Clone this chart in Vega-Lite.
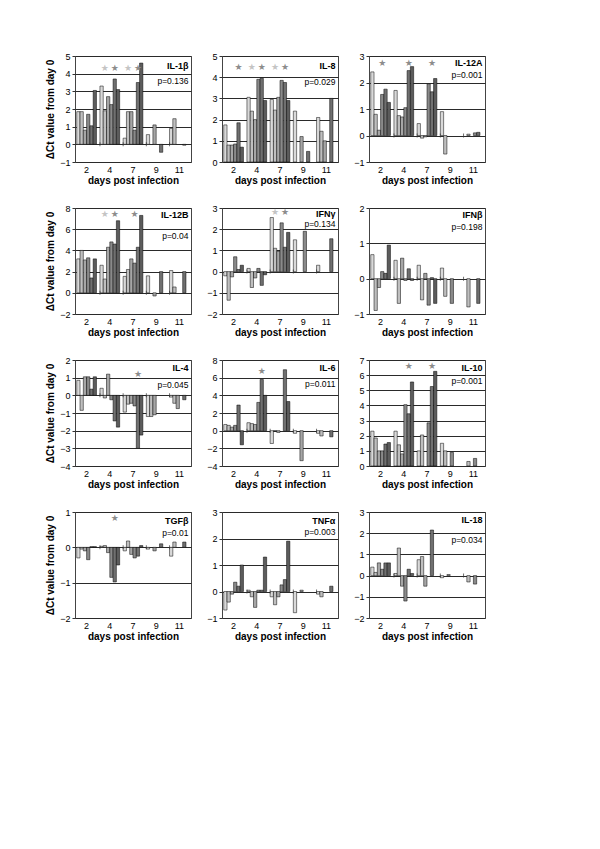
{
"$schema":"https://vega.github.io/schema/vega-lite/v6.json",
"background":"white",
"padding":{"left":45,"top":51,"right":5,"bottom":5},
"config":{
 "font":"Liberation Sans",
 "view":{"stroke":"#444","strokeWidth":1},
 "bar":{"stroke":"#000","strokeWidth":0.5},
 "text":{"font":"Liberation Sans","fill":"#000"},
 "axis":{"labelFont":"Liberation Sans","labelFontSize":9,"labelColor":"#000","titleFont":"Liberation Sans","titleFontSize":10,"titleFontWeight":"bold","titleColor":"#000","domain":false},
 "axisX":{"ticks":false,"grid":false,"labelAngle":0,"labelPadding":3,"titlePadding":1},
 "axisY":{"tickCount":20,"format":"d","labelOverlap":false,"tickSize":3,"tickColor":"#333","grid":true,"gridColor":"#2a2a2a","gridOpacity":1,"labelPadding":2,"titlePadding":4}
},
"datasets":{
 "one":[{}],
 "days":[{"d":4},{"d":7},{"d":9},{"d":11}],
 "bars":[
  {"p":"IL-1β","d":2,"i":1,"v":1.85},{"p":"IL-1β","d":2,"i":2,"v":1.85},{"p":"IL-1β","d":2,"i":3,"v":0.8},{"p":"IL-1β","d":2,"i":4,"v":1.7},{"p":"IL-1β","d":2,"i":5,"v":1.05},{"p":"IL-1β","d":2,"i":6,"v":3.05},
  {"p":"IL-1β","d":4,"i":1,"v":3.3},{"p":"IL-1β","d":4,"i":2,"v":1.9},{"p":"IL-1β","d":4,"i":3,"v":2.7},{"p":"IL-1β","d":4,"i":4,"v":2.25},{"p":"IL-1β","d":4,"i":5,"v":3.7},{"p":"IL-1β","d":4,"i":6,"v":3.1},
  {"p":"IL-1β","d":7,"i":1,"v":0.35},{"p":"IL-1β","d":7,"i":2,"v":1.85},{"p":"IL-1β","d":7,"i":3,"v":1.85},{"p":"IL-1β","d":7,"i":4,"v":0.8},{"p":"IL-1β","d":7,"i":5,"v":3.5},{"p":"IL-1β","d":7,"i":6,"v":4.6},
  {"p":"IL-1β","d":9,"i":1,"v":0.55},{"p":"IL-1β","d":9,"i":3,"v":1.1},{"p":"IL-1β","d":9,"i":5,"v":-0.45},
  {"p":"IL-1β","d":11,"i":1,"v":0.9},{"p":"IL-1β","d":11,"i":2,"v":1.45},{"p":"IL-1β","d":11,"i":5,"v":-0.05},

  {"p":"IL-8","d":2,"i":1,"v":1.75},{"p":"IL-8","d":2,"i":2,"v":0.8},{"p":"IL-8","d":2,"i":3,"v":0.8},{"p":"IL-8","d":2,"i":4,"v":0.85},{"p":"IL-8","d":2,"i":5,"v":1.85},{"p":"IL-8","d":2,"i":6,"v":0.7},
  {"p":"IL-8","d":4,"i":1,"v":3.05},{"p":"IL-8","d":4,"i":2,"v":2.4},{"p":"IL-8","d":4,"i":3,"v":2.0},{"p":"IL-8","d":4,"i":4,"v":3.9},{"p":"IL-8","d":4,"i":5,"v":3.95},{"p":"IL-8","d":4,"i":6,"v":2.9},
  {"p":"IL-8","d":7,"i":1,"v":2.95},{"p":"IL-8","d":7,"i":2,"v":2.45},{"p":"IL-8","d":7,"i":3,"v":3.05},{"p":"IL-8","d":7,"i":4,"v":3.85},{"p":"IL-8","d":7,"i":5,"v":3.75},{"p":"IL-8","d":7,"i":6,"v":2.9},
  {"p":"IL-8","d":9,"i":1,"v":2.4},{"p":"IL-8","d":9,"i":3,"v":1.2},{"p":"IL-8","d":9,"i":5,"v":0.5},
  {"p":"IL-8","d":11,"i":1,"v":2.1},{"p":"IL-8","d":11,"i":2,"v":1.45},{"p":"IL-8","d":11,"i":3,"v":1.0},{"p":"IL-8","d":11,"i":5,"v":3.0},

  {"p":"IL-12A","d":2,"i":1,"v":2.4},{"p":"IL-12A","d":2,"i":2,"v":0.8},{"p":"IL-12A","d":2,"i":3,"v":0.2},{"p":"IL-12A","d":2,"i":4,"v":1.55},{"p":"IL-12A","d":2,"i":5,"v":1.75},{"p":"IL-12A","d":2,"i":6,"v":1.25},
  {"p":"IL-12A","d":4,"i":1,"v":1.7},{"p":"IL-12A","d":4,"i":2,"v":0.75},{"p":"IL-12A","d":4,"i":3,"v":0.7},{"p":"IL-12A","d":4,"i":4,"v":1.05},{"p":"IL-12A","d":4,"i":5,"v":2.45},{"p":"IL-12A","d":4,"i":6,"v":2.6},
  {"p":"IL-12A","d":7,"i":1,"v":0.45},{"p":"IL-12A","d":7,"i":2,"v":-0.1},{"p":"IL-12A","d":7,"i":3,"v":-0.05},{"p":"IL-12A","d":7,"i":4,"v":1.95},{"p":"IL-12A","d":7,"i":5,"v":1.65},{"p":"IL-12A","d":7,"i":6,"v":2.15},
  {"p":"IL-12A","d":9,"i":1,"v":0.9},{"p":"IL-12A","d":9,"i":2,"v":-0.7},
  {"p":"IL-12A","d":11,"i":2,"v":0.05},{"p":"IL-12A","d":11,"i":4,"v":0.1},{"p":"IL-12A","d":11,"i":5,"v":0.12},

  {"p":"IL-12B","d":2,"i":1,"v":3.2},{"p":"IL-12B","d":2,"i":2,"v":4.0},{"p":"IL-12B","d":2,"i":3,"v":3.1},{"p":"IL-12B","d":2,"i":4,"v":3.3},{"p":"IL-12B","d":2,"i":5,"v":1.4},{"p":"IL-12B","d":2,"i":6,"v":3.2},
  {"p":"IL-12B","d":4,"i":1,"v":2.6},{"p":"IL-12B","d":4,"i":2,"v":1.3},{"p":"IL-12B","d":4,"i":3,"v":4.3},{"p":"IL-12B","d":4,"i":4,"v":4.8},{"p":"IL-12B","d":4,"i":5,"v":4.6},{"p":"IL-12B","d":4,"i":6,"v":6.8},
  {"p":"IL-12B","d":7,"i":1,"v":1.55},{"p":"IL-12B","d":7,"i":2,"v":2.2},{"p":"IL-12B","d":7,"i":3,"v":3.2},{"p":"IL-12B","d":7,"i":4,"v":2.8},{"p":"IL-12B","d":7,"i":5,"v":4.3},{"p":"IL-12B","d":7,"i":6,"v":7.3},
  {"p":"IL-12B","d":9,"i":1,"v":1.6},{"p":"IL-12B","d":9,"i":3,"v":-0.3},{"p":"IL-12B","d":9,"i":5,"v":2.0},
  {"p":"IL-12B","d":11,"i":1,"v":2.1},{"p":"IL-12B","d":11,"i":2,"v":0.55},{"p":"IL-12B","d":11,"i":5,"v":2.0},

  {"p":"IFNγ","d":2,"i":1,"v":-0.2},{"p":"IFNγ","d":2,"i":2,"v":-1.35},{"p":"IFNγ","d":2,"i":3,"v":-0.25},{"p":"IFNγ","d":2,"i":4,"v":0.7},{"p":"IFNγ","d":2,"i":5,"v":0.1},{"p":"IFNγ","d":2,"i":6,"v":0.3},
  {"p":"IFNγ","d":4,"i":1,"v":0.15},{"p":"IFNγ","d":4,"i":2,"v":-0.75},{"p":"IFNγ","d":4,"i":3,"v":-0.3},{"p":"IFNγ","d":4,"i":4,"v":0.15},{"p":"IFNγ","d":4,"i":5,"v":-0.65},{"p":"IFNγ","d":4,"i":6,"v":-0.15},
  {"p":"IFNγ","d":7,"i":1,"v":2.55},{"p":"IFNγ","d":7,"i":2,"v":1.1},{"p":"IFNγ","d":7,"i":3,"v":0.95},{"p":"IFNγ","d":7,"i":4,"v":2.3},{"p":"IFNγ","d":7,"i":5,"v":1.15},{"p":"IFNγ","d":7,"i":6,"v":1.85},
  {"p":"IFNγ","d":9,"i":1,"v":1.5},{"p":"IFNγ","d":9,"i":4,"v":1.9},
  {"p":"IFNγ","d":11,"i":1,"v":0.3},{"p":"IFNγ","d":11,"i":5,"v":1.55},

  {"p":"IFNβ","d":2,"i":1,"v":0.68},{"p":"IFNβ","d":2,"i":2,"v":-0.9},{"p":"IFNβ","d":2,"i":3,"v":-0.25},{"p":"IFNβ","d":2,"i":4,"v":0.2},{"p":"IFNβ","d":2,"i":5,"v":0.15},{"p":"IFNβ","d":2,"i":6,"v":0.95},
  {"p":"IFNβ","d":4,"i":1,"v":0.52},{"p":"IFNβ","d":4,"i":2,"v":-0.7},{"p":"IFNβ","d":4,"i":3,"v":0.58},{"p":"IFNβ","d":4,"i":4,"v":-0.05},{"p":"IFNβ","d":4,"i":5,"v":0.28},{"p":"IFNβ","d":4,"i":6,"v":-0.05},
  {"p":"IFNβ","d":7,"i":1,"v":0.38},{"p":"IFNβ","d":7,"i":2,"v":-0.6},{"p":"IFNβ","d":7,"i":3,"v":0.15},{"p":"IFNβ","d":7,"i":4,"v":-0.75},{"p":"IFNβ","d":7,"i":5,"v":0.03},{"p":"IFNβ","d":7,"i":6,"v":-0.7},
  {"p":"IFNβ","d":9,"i":1,"v":0.3},{"p":"IFNβ","d":9,"i":2,"v":-0.5},{"p":"IFNβ","d":9,"i":4,"v":-0.7},
  {"p":"IFNβ","d":11,"i":2,"v":-0.8},{"p":"IFNβ","d":11,"i":5,"v":-0.7},

  {"p":"IL-4","d":2,"i":1,"v":0.85},{"p":"IL-4","d":2,"i":2,"v":-0.85},{"p":"IL-4","d":2,"i":3,"v":1.05},{"p":"IL-4","d":2,"i":4,"v":1.05},{"p":"IL-4","d":2,"i":5,"v":0.35},{"p":"IL-4","d":2,"i":6,"v":1.05},
  {"p":"IL-4","d":4,"i":1,"v":0.4},{"p":"IL-4","d":4,"i":2,"v":-0.15},{"p":"IL-4","d":4,"i":3,"v":1.2},{"p":"IL-4","d":4,"i":4,"v":-0.25},{"p":"IL-4","d":4,"i":5,"v":-1.45},{"p":"IL-4","d":4,"i":6,"v":-1.8},
  {"p":"IL-4","d":7,"i":1,"v":-0.95},{"p":"IL-4","d":7,"i":2,"v":-0.5},{"p":"IL-4","d":7,"i":3,"v":-0.45},{"p":"IL-4","d":7,"i":4,"v":-0.6},{"p":"IL-4","d":7,"i":5,"v":-3.0},{"p":"IL-4","d":7,"i":6,"v":-2.25},
  {"p":"IL-4","d":9,"i":1,"v":-1.2},{"p":"IL-4","d":9,"i":2,"v":-1.2},{"p":"IL-4","d":9,"i":3,"v":-1.1},
  {"p":"IL-4","d":11,"i":1,"v":-0.1},{"p":"IL-4","d":11,"i":2,"v":-0.45},{"p":"IL-4","d":11,"i":3,"v":-0.75},{"p":"IL-4","d":11,"i":5,"v":-0.25},

  {"p":"IL-6","d":2,"i":1,"v":0.7},{"p":"IL-6","d":2,"i":2,"v":0.6},{"p":"IL-6","d":2,"i":3,"v":0.4},{"p":"IL-6","d":2,"i":4,"v":0.6},{"p":"IL-6","d":2,"i":5,"v":2.9},{"p":"IL-6","d":2,"i":6,"v":-1.6},
  {"p":"IL-6","d":4,"i":1,"v":0.9},{"p":"IL-6","d":4,"i":2,"v":0.8},{"p":"IL-6","d":4,"i":3,"v":0.7},{"p":"IL-6","d":4,"i":4,"v":3.2},{"p":"IL-6","d":4,"i":5,"v":5.8},{"p":"IL-6","d":4,"i":6,"v":4.0},
  {"p":"IL-6","d":7,"i":1,"v":-1.45},{"p":"IL-6","d":7,"i":2,"v":-0.05},{"p":"IL-6","d":7,"i":3,"v":-0.2},{"p":"IL-6","d":7,"i":5,"v":6.9},{"p":"IL-6","d":7,"i":6,"v":3.3},
  {"p":"IL-6","d":9,"i":1,"v":-0.3},{"p":"IL-6","d":9,"i":3,"v":-3.4},
  {"p":"IL-6","d":11,"i":1,"v":-0.3},{"p":"IL-6","d":11,"i":2,"v":-0.6},{"p":"IL-6","d":11,"i":5,"v":-0.7},

  {"p":"IL-10","d":2,"i":1,"v":2.3},{"p":"IL-10","d":2,"i":2,"v":1.85},{"p":"IL-10","d":2,"i":3,"v":1.0},{"p":"IL-10","d":2,"i":4,"v":1.0},{"p":"IL-10","d":2,"i":5,"v":1.45},{"p":"IL-10","d":2,"i":6,"v":1.55},
  {"p":"IL-10","d":4,"i":1,"v":2.3},{"p":"IL-10","d":4,"i":2,"v":1.4},{"p":"IL-10","d":4,"i":3,"v":0.8},{"p":"IL-10","d":4,"i":4,"v":4.05},{"p":"IL-10","d":4,"i":5,"v":3.45},{"p":"IL-10","d":4,"i":6,"v":5.55},
  {"p":"IL-10","d":7,"i":1,"v":1.0},{"p":"IL-10","d":7,"i":2,"v":2.05},{"p":"IL-10","d":7,"i":4,"v":2.85},{"p":"IL-10","d":7,"i":5,"v":5.25},{"p":"IL-10","d":7,"i":6,"v":6.25},
  {"p":"IL-10","d":9,"i":1,"v":1.5},{"p":"IL-10","d":9,"i":2,"v":1.0},{"p":"IL-10","d":9,"i":4,"v":0.9},
  {"p":"IL-10","d":11,"i":2,"v":0.3},{"p":"IL-10","d":11,"i":4,"v":0.5},

  {"p":"TGFβ","d":2,"i":1,"v":-0.3},{"p":"TGFβ","d":2,"i":2,"v":-0.05},{"p":"TGFβ","d":2,"i":3,"v":-0.1},{"p":"TGFβ","d":2,"i":4,"v":-0.35},{"p":"TGFβ","d":2,"i":5,"v":0.02},{"p":"TGFβ","d":2,"i":6,"v":0.02},
  {"p":"TGFβ","d":4,"i":1,"v":0.03},{"p":"TGFβ","d":4,"i":2,"v":0.05},{"p":"TGFβ","d":4,"i":3,"v":-0.15},{"p":"TGFβ","d":4,"i":4,"v":-0.85},{"p":"TGFβ","d":4,"i":5,"v":-0.98},{"p":"TGFβ","d":4,"i":6,"v":-0.5},
  {"p":"TGFβ","d":7,"i":1,"v":-0.1},{"p":"TGFβ","d":7,"i":2,"v":0.18},{"p":"TGFβ","d":7,"i":3,"v":-0.2},{"p":"TGFβ","d":7,"i":4,"v":-0.3},{"p":"TGFβ","d":7,"i":5,"v":-0.25},{"p":"TGFβ","d":7,"i":6,"v":0.05},
  {"p":"TGFβ","d":9,"i":1,"v":-0.05},{"p":"TGFβ","d":9,"i":3,"v":-0.1},{"p":"TGFβ","d":9,"i":5,"v":0.1},
  {"p":"TGFβ","d":11,"i":1,"v":-0.25},{"p":"TGFβ","d":11,"i":2,"v":0.15},{"p":"TGFβ","d":11,"i":5,"v":0.15},

  {"p":"TNFα","d":2,"i":1,"v":-0.7},{"p":"TNFα","d":2,"i":2,"v":-0.4},{"p":"TNFα","d":2,"i":3,"v":-0.1},{"p":"TNFα","d":2,"i":4,"v":0.35},{"p":"TNFα","d":2,"i":5,"v":0.2},{"p":"TNFα","d":2,"i":6,"v":1.0},
  {"p":"TNFα","d":4,"i":1,"v":0.05},{"p":"TNFα","d":4,"i":2,"v":-0.2},{"p":"TNFα","d":4,"i":3,"v":-0.6},{"p":"TNFα","d":4,"i":4,"v":0.05},{"p":"TNFα","d":4,"i":5,"v":0.05},{"p":"TNFα","d":4,"i":6,"v":1.3},
  {"p":"TNFα","d":7,"i":1,"v":-0.2},{"p":"TNFα","d":7,"i":2,"v":-0.5},{"p":"TNFα","d":7,"i":3,"v":-0.2},{"p":"TNFα","d":7,"i":4,"v":0.25},{"p":"TNFα","d":7,"i":5,"v":0.45},{"p":"TNFα","d":7,"i":6,"v":1.9},
  {"p":"TNFα","d":9,"i":1,"v":-0.8},{"p":"TNFα","d":9,"i":3,"v":0.05},
  {"p":"TNFα","d":11,"i":1,"v":-0.1},{"p":"TNFα","d":11,"i":2,"v":-0.2},{"p":"TNFα","d":11,"i":5,"v":0.2},

  {"p":"IL-18","d":2,"i":1,"v":0.4},{"p":"IL-18","d":2,"i":2,"v":0.15},{"p":"IL-18","d":2,"i":3,"v":0.6},{"p":"IL-18","d":2,"i":4,"v":0.3},{"p":"IL-18","d":2,"i":5,"v":0.6},{"p":"IL-18","d":2,"i":6,"v":0.6},
  {"p":"IL-18","d":4,"i":1,"v":0.1},{"p":"IL-18","d":4,"i":2,"v":1.3},{"p":"IL-18","d":4,"i":3,"v":-0.5},{"p":"IL-18","d":4,"i":4,"v":-1.2},{"p":"IL-18","d":4,"i":5,"v":0.3},{"p":"IL-18","d":4,"i":6,"v":0.1},
  {"p":"IL-18","d":7,"i":1,"v":0.75},{"p":"IL-18","d":7,"i":2,"v":0.9},{"p":"IL-18","d":7,"i":3,"v":-0.5},{"p":"IL-18","d":7,"i":5,"v":2.15},
  {"p":"IL-18","d":9,"i":1,"v":-0.1},{"p":"IL-18","d":9,"i":3,"v":0.05},
  {"p":"IL-18","d":11,"i":2,"v":-0.3},{"p":"IL-18","d":11,"i":4,"v":-0.4}
 ],
 "stars":[
  {"p":"IL-1β","d":4,"i":2,"k":"a"},{"p":"IL-1β","d":4,"i":5,"k":"b"},{"p":"IL-1β","d":7,"i":2,"k":"a"},{"p":"IL-1β","d":7,"i":5,"k":"b"},
  {"p":"IL-8","d":2,"i":5,"k":"b"},{"p":"IL-8","d":4,"i":2,"k":"a"},{"p":"IL-8","d":4,"i":5,"k":"b"},{"p":"IL-8","d":7,"i":2,"k":"a"},{"p":"IL-8","d":7,"i":5,"k":"b"},
  {"p":"IL-12A","d":2,"i":4,"k":"b"},{"p":"IL-12A","d":4,"i":5,"k":"b"},{"p":"IL-12A","d":7,"i":5,"k":"b"},
  {"p":"IL-12B","d":4,"i":2,"k":"a"},{"p":"IL-12B","d":4,"i":5,"k":"b"},{"p":"IL-12B","d":7,"i":4,"k":"b"},
  {"p":"IFNγ","d":7,"i":2,"k":"a"},{"p":"IFNγ","d":7,"i":5,"k":"b"},
  {"p":"IL-4","d":7,"i":5,"k":"b"},
  {"p":"IL-6","d":4,"i":5,"k":"b"},
  {"p":"IL-10","d":4,"i":5,"k":"b"},{"p":"IL-10","d":7,"i":5,"k":"b"},
  {"p":"TGFβ","d":4,"i":5,"k":"b"}
 ]
},
"columns":3,
"spacing":{"row":46,"column":31},
"bounds":"flush",
"concat":[
 {"width":116,"height":106,"layer":[
  {"data":{"name":"bars"},"transform":[{"filter":"datum.p=='IL-1β'"}],"mark":"bar","encoding":{
   "x":{"field":"d","type":"ordinal","scale":{"domain":[2,4,7,9,11],"paddingInner":0.15,"paddingOuter":0.075},"axis":{"title":"days post infection"}},
   "xOffset":{"field":"i","type":"ordinal","scale":{"domain":[1,2,3,4,5,6],"paddingInner":0,"paddingOuter":0}},
   "y":{"field":"v","type":"quantitative","scale":{"domain":[-1,5],"nice":false},"axis":{"values":[-1,0,1,2,3,4,5],"title":"ΔCt value from day 0"}},
   "color":{"field":"i","type":"ordinal","scale":{"domain":[1,2,3,4,5,6],"range":["#d9d9d9","#bfbfbf","#a6a6a6","#8a8a8a","#707070","#5c5c5c"]},"legend":null}}},
  {"data":{"name":"days"},"mark":{"type":"tick","orient":"vertical","size":4,"thickness":1,"color":"#333"},"encoding":{"x":{"field":"d","type":"ordinal","bandPosition":0},"y":{"datum":0}}},
  {"data":{"name":"stars"},"transform":[{"filter":"datum.p=='IL-1β'"}],"mark":{"type":"text","text":"★","fontSize":9,"font":"DejaVu Sans"},"encoding":{"x":{"field":"d","type":"ordinal"},"xOffset":{"field":"i","type":"ordinal"},"y":{"datum":4.3},"fill":{"field":"k","type":"nominal","scale":{"domain":["a","b"],"range":["#c4c4c4","#8c8c8c"]},"legend":null}}},
  {"data":{"name":"one"},"mark":{"type":"text","text":"IL-1β","fontWeight":"bold","fontSize":9,"align":"right","dx":9},"encoding":{"x":{"datum":11,"type":"ordinal"},"y":{"datum":4.45}}},
  {"data":{"name":"one"},"mark":{"type":"text","text":"p=0.136","fontSize":8.5,"align":"right","dx":9},"encoding":{"x":{"datum":11,"type":"ordinal"},"y":{"datum":3.6}}}
 ]},
 {"width":116,"height":106,"layer":[
  {"data":{"name":"bars"},"transform":[{"filter":"datum.p=='IL-8'"}],"mark":"bar","encoding":{
   "x":{"field":"d","type":"ordinal","scale":{"domain":[2,4,7,9,11],"paddingInner":0.15,"paddingOuter":0.075},"axis":{"title":"days post infection"}},
   "xOffset":{"field":"i","type":"ordinal","scale":{"domain":[1,2,3,4,5,6],"paddingInner":0,"paddingOuter":0}},
   "y":{"field":"v","type":"quantitative","scale":{"domain":[0,5],"nice":false},"axis":{"values":[0,1,2,3,4,5],"title":null}},
   "color":{"field":"i","type":"ordinal","scale":{"domain":[1,2,3,4,5,6],"range":["#d9d9d9","#bfbfbf","#a6a6a6","#8a8a8a","#707070","#5c5c5c"]},"legend":null}}},
  {"data":{"name":"stars"},"transform":[{"filter":"datum.p=='IL-8'"}],"mark":{"type":"text","text":"★","fontSize":9,"font":"DejaVu Sans"},"encoding":{"x":{"field":"d","type":"ordinal"},"xOffset":{"field":"i","type":"ordinal"},"y":{"datum":4.5},"fill":{"field":"k","type":"nominal","scale":{"domain":["a","b"],"range":["#c4c4c4","#8c8c8c"]},"legend":null}}},
  {"data":{"name":"one"},"mark":{"type":"text","text":"IL-8","fontWeight":"bold","fontSize":9,"align":"right","dx":9},"encoding":{"x":{"datum":11,"type":"ordinal"},"y":{"datum":4.55}}},
  {"data":{"name":"one"},"mark":{"type":"text","text":"p=0.029","fontSize":8.5,"align":"right","dx":9},"encoding":{"x":{"datum":11,"type":"ordinal"},"y":{"datum":3.76}}}
 ]},
 {"width":116,"height":106,"layer":[
  {"data":{"name":"bars"},"transform":[{"filter":"datum.p=='IL-12A'"}],"mark":"bar","encoding":{
   "x":{"field":"d","type":"ordinal","scale":{"domain":[2,4,7,9,11],"paddingInner":0.15,"paddingOuter":0.075},"axis":{"title":"days post infection"}},
   "xOffset":{"field":"i","type":"ordinal","scale":{"domain":[1,2,3,4,5,6],"paddingInner":0,"paddingOuter":0}},
   "y":{"field":"v","type":"quantitative","scale":{"domain":[-1,3],"nice":false},"axis":{"values":[-1,0,1,2,3],"title":null}},
   "color":{"field":"i","type":"ordinal","scale":{"domain":[1,2,3,4,5,6],"range":["#d9d9d9","#bfbfbf","#a6a6a6","#8a8a8a","#707070","#5c5c5c"]},"legend":null}}},
  {"data":{"name":"days"},"mark":{"type":"tick","orient":"vertical","size":4,"thickness":1,"color":"#333"},"encoding":{"x":{"field":"d","type":"ordinal","bandPosition":0},"y":{"datum":0}}},
  {"data":{"name":"stars"},"transform":[{"filter":"datum.p=='IL-12A'"}],"mark":{"type":"text","text":"★","fontSize":9,"font":"DejaVu Sans"},"encoding":{"x":{"field":"d","type":"ordinal"},"xOffset":{"field":"i","type":"ordinal"},"y":{"datum":2.75},"fill":{"field":"k","type":"nominal","scale":{"domain":["a","b"],"range":["#c4c4c4","#8c8c8c"]},"legend":null}}},
  {"data":{"name":"one"},"mark":{"type":"text","text":"IL-12A","fontWeight":"bold","fontSize":9,"align":"right","dx":9},"encoding":{"x":{"datum":11,"type":"ordinal"},"y":{"datum":2.72}}},
  {"data":{"name":"one"},"mark":{"type":"text","text":"p=0.001","fontSize":8.5,"align":"right","dx":9},"encoding":{"x":{"datum":11,"type":"ordinal"},"y":{"datum":2.3}}}
 ]},
 {"width":116,"height":106,"layer":[
  {"data":{"name":"bars"},"transform":[{"filter":"datum.p=='IL-12B'"}],"mark":"bar","encoding":{
   "x":{"field":"d","type":"ordinal","scale":{"domain":[2,4,7,9,11],"paddingInner":0.15,"paddingOuter":0.075},"axis":{"title":"days post infection"}},
   "xOffset":{"field":"i","type":"ordinal","scale":{"domain":[1,2,3,4,5,6],"paddingInner":0,"paddingOuter":0}},
   "y":{"field":"v","type":"quantitative","scale":{"domain":[-2,8],"nice":false},"axis":{"values":[-2,0,2,4,6,8],"title":"ΔCt value from day 0"}},
   "color":{"field":"i","type":"ordinal","scale":{"domain":[1,2,3,4,5,6],"range":["#d9d9d9","#bfbfbf","#a6a6a6","#8a8a8a","#707070","#5c5c5c"]},"legend":null}}},
  {"data":{"name":"days"},"mark":{"type":"tick","orient":"vertical","size":4,"thickness":1,"color":"#333"},"encoding":{"x":{"field":"d","type":"ordinal","bandPosition":0},"y":{"datum":0}}},
  {"data":{"name":"stars"},"transform":[{"filter":"datum.p=='IL-12B'"}],"mark":{"type":"text","text":"★","fontSize":9,"font":"DejaVu Sans"},"encoding":{"x":{"field":"d","type":"ordinal"},"xOffset":{"field":"i","type":"ordinal"},"y":{"datum":7.4},"fill":{"field":"k","type":"nominal","scale":{"domain":["a","b"],"range":["#c4c4c4","#8c8c8c"]},"legend":null}}},
  {"data":{"name":"one"},"mark":{"type":"text","text":"IL-12B","fontWeight":"bold","fontSize":9,"align":"right","dx":9},"encoding":{"x":{"datum":11,"type":"ordinal"},"y":{"datum":7.3}}},
  {"data":{"name":"one"},"mark":{"type":"text","text":"p=0.04","fontSize":8.5,"align":"right","dx":9},"encoding":{"x":{"datum":11,"type":"ordinal"},"y":{"datum":5.35}}}
 ]},
 {"width":116,"height":106,"layer":[
  {"data":{"name":"bars"},"transform":[{"filter":"datum.p=='IFNγ'"}],"mark":"bar","encoding":{
   "x":{"field":"d","type":"ordinal","scale":{"domain":[2,4,7,9,11],"paddingInner":0.15,"paddingOuter":0.075},"axis":{"title":"days post infection"}},
   "xOffset":{"field":"i","type":"ordinal","scale":{"domain":[1,2,3,4,5,6],"paddingInner":0,"paddingOuter":0}},
   "y":{"field":"v","type":"quantitative","scale":{"domain":[-2,3],"nice":false},"axis":{"values":[-2,-1,0,1,2,3],"title":null}},
   "color":{"field":"i","type":"ordinal","scale":{"domain":[1,2,3,4,5,6],"range":["#d9d9d9","#bfbfbf","#a6a6a6","#8a8a8a","#707070","#5c5c5c"]},"legend":null}}},
  {"data":{"name":"days"},"mark":{"type":"tick","orient":"vertical","size":4,"thickness":1,"color":"#333"},"encoding":{"x":{"field":"d","type":"ordinal","bandPosition":0},"y":{"datum":0}}},
  {"data":{"name":"stars"},"transform":[{"filter":"datum.p=='IFNγ'"}],"mark":{"type":"text","text":"★","fontSize":9,"font":"DejaVu Sans"},"encoding":{"x":{"field":"d","type":"ordinal"},"xOffset":{"field":"i","type":"ordinal"},"y":{"datum":2.8},"fill":{"field":"k","type":"nominal","scale":{"domain":["a","b"],"range":["#c4c4c4","#8c8c8c"]},"legend":null}}},
  {"data":{"name":"one"},"mark":{"type":"text","text":"IFNγ","fontWeight":"bold","fontSize":9,"align":"right","dx":9},"encoding":{"x":{"datum":11,"type":"ordinal"},"y":{"datum":2.72}}},
  {"data":{"name":"one"},"mark":{"type":"text","text":"p=0.134","fontSize":8.5,"align":"right","dx":9},"encoding":{"x":{"datum":11,"type":"ordinal"},"y":{"datum":2.25}}}
 ]},
 {"width":116,"height":106,"layer":[
  {"data":{"name":"bars"},"transform":[{"filter":"datum.p=='IFNβ'"}],"mark":"bar","encoding":{
   "x":{"field":"d","type":"ordinal","scale":{"domain":[2,4,7,9,11],"paddingInner":0.15,"paddingOuter":0.075},"axis":{"title":"days post infection"}},
   "xOffset":{"field":"i","type":"ordinal","scale":{"domain":[1,2,3,4,5,6],"paddingInner":0,"paddingOuter":0}},
   "y":{"field":"v","type":"quantitative","scale":{"domain":[-1,2],"nice":false},"axis":{"values":[-1,0,1,2],"title":null}},
   "color":{"field":"i","type":"ordinal","scale":{"domain":[1,2,3,4,5,6],"range":["#d9d9d9","#bfbfbf","#a6a6a6","#8a8a8a","#707070","#5c5c5c"]},"legend":null}}},
  {"data":{"name":"days"},"mark":{"type":"tick","orient":"vertical","size":4,"thickness":1,"color":"#333"},"encoding":{"x":{"field":"d","type":"ordinal","bandPosition":0},"y":{"datum":0}}},
  {"data":{"name":"one"},"mark":{"type":"text","text":"IFNβ","fontWeight":"bold","fontSize":9,"align":"right","dx":9},"encoding":{"x":{"datum":11,"type":"ordinal"},"y":{"datum":1.8}}},
  {"data":{"name":"one"},"mark":{"type":"text","text":"p=0.198","fontSize":8.5,"align":"right","dx":9},"encoding":{"x":{"datum":11,"type":"ordinal"},"y":{"datum":1.45}}}
 ]},
 {"width":116,"height":106,"layer":[
  {"data":{"name":"bars"},"transform":[{"filter":"datum.p=='IL-4'"}],"mark":"bar","encoding":{
   "x":{"field":"d","type":"ordinal","scale":{"domain":[2,4,7,9,11],"paddingInner":0.15,"paddingOuter":0.075},"axis":{"title":"days post infection"}},
   "xOffset":{"field":"i","type":"ordinal","scale":{"domain":[1,2,3,4,5,6],"paddingInner":0,"paddingOuter":0}},
   "y":{"field":"v","type":"quantitative","scale":{"domain":[-4,2],"nice":false},"axis":{"values":[-4,-3,-2,-1,0,1,2],"title":"ΔCt value from day 0"}},
   "color":{"field":"i","type":"ordinal","scale":{"domain":[1,2,3,4,5,6],"range":["#d9d9d9","#bfbfbf","#a6a6a6","#8a8a8a","#707070","#5c5c5c"]},"legend":null}}},
  {"data":{"name":"days"},"mark":{"type":"tick","orient":"vertical","size":4,"thickness":1,"color":"#333"},"encoding":{"x":{"field":"d","type":"ordinal","bandPosition":0},"y":{"datum":0}}},
  {"data":{"name":"stars"},"transform":[{"filter":"datum.p=='IL-4'"}],"mark":{"type":"text","text":"★","fontSize":9,"font":"DejaVu Sans"},"encoding":{"x":{"field":"d","type":"ordinal"},"xOffset":{"field":"i","type":"ordinal"},"y":{"datum":1.23},"fill":{"field":"k","type":"nominal","scale":{"domain":["a","b"],"range":["#c4c4c4","#8c8c8c"]},"legend":null}}},
  {"data":{"name":"one"},"mark":{"type":"text","text":"IL-4","fontWeight":"bold","fontSize":9,"align":"right","dx":9},"encoding":{"x":{"datum":11,"type":"ordinal"},"y":{"datum":1.55}}},
  {"data":{"name":"one"},"mark":{"type":"text","text":"p=0.045","fontSize":8.5,"align":"right","dx":9},"encoding":{"x":{"datum":11,"type":"ordinal"},"y":{"datum":0.6}}}
 ]},
 {"width":116,"height":106,"layer":[
  {"data":{"name":"bars"},"transform":[{"filter":"datum.p=='IL-6'"}],"mark":"bar","encoding":{
   "x":{"field":"d","type":"ordinal","scale":{"domain":[2,4,7,9,11],"paddingInner":0.15,"paddingOuter":0.075},"axis":{"title":"days post infection"}},
   "xOffset":{"field":"i","type":"ordinal","scale":{"domain":[1,2,3,4,5,6],"paddingInner":0,"paddingOuter":0}},
   "y":{"field":"v","type":"quantitative","scale":{"domain":[-4,8],"nice":false},"axis":{"values":[-4,-2,0,2,4,6,8],"title":null}},
   "color":{"field":"i","type":"ordinal","scale":{"domain":[1,2,3,4,5,6],"range":["#d9d9d9","#bfbfbf","#a6a6a6","#8a8a8a","#707070","#5c5c5c"]},"legend":null}}},
  {"data":{"name":"days"},"mark":{"type":"tick","orient":"vertical","size":4,"thickness":1,"color":"#333"},"encoding":{"x":{"field":"d","type":"ordinal","bandPosition":0},"y":{"datum":0}}},
  {"data":{"name":"stars"},"transform":[{"filter":"datum.p=='IL-6'"}],"mark":{"type":"text","text":"★","fontSize":9,"font":"DejaVu Sans"},"encoding":{"x":{"field":"d","type":"ordinal"},"xOffset":{"field":"i","type":"ordinal"},"y":{"datum":6.7},"fill":{"field":"k","type":"nominal","scale":{"domain":["a","b"],"range":["#c4c4c4","#8c8c8c"]},"legend":null}}},
  {"data":{"name":"one"},"mark":{"type":"text","text":"IL-6","fontWeight":"bold","fontSize":9,"align":"right","dx":9},"encoding":{"x":{"datum":11,"type":"ordinal"},"y":{"datum":7.1}}},
  {"data":{"name":"one"},"mark":{"type":"text","text":"p=0.011","fontSize":8.5,"align":"right","dx":9},"encoding":{"x":{"datum":11,"type":"ordinal"},"y":{"datum":5.3}}}
 ]},
 {"width":116,"height":106,"layer":[
  {"data":{"name":"bars"},"transform":[{"filter":"datum.p=='IL-10'"}],"mark":"bar","encoding":{
   "x":{"field":"d","type":"ordinal","scale":{"domain":[2,4,7,9,11],"paddingInner":0.15,"paddingOuter":0.075},"axis":{"title":"days post infection"}},
   "xOffset":{"field":"i","type":"ordinal","scale":{"domain":[1,2,3,4,5,6],"paddingInner":0,"paddingOuter":0}},
   "y":{"field":"v","type":"quantitative","scale":{"domain":[0,7],"nice":false},"axis":{"values":[0,1,2,3,4,5,6,7],"title":null}},
   "color":{"field":"i","type":"ordinal","scale":{"domain":[1,2,3,4,5,6],"range":["#d9d9d9","#bfbfbf","#a6a6a6","#8a8a8a","#707070","#5c5c5c"]},"legend":null}}},
  {"data":{"name":"stars"},"transform":[{"filter":"datum.p=='IL-10'"}],"mark":{"type":"text","text":"★","fontSize":9,"font":"DejaVu Sans"},"encoding":{"x":{"field":"d","type":"ordinal"},"xOffset":{"field":"i","type":"ordinal"},"y":{"datum":6.6},"fill":{"field":"k","type":"nominal","scale":{"domain":["a","b"],"range":["#c4c4c4","#8c8c8c"]},"legend":null}}},
  {"data":{"name":"one"},"mark":{"type":"text","text":"IL-10","fontWeight":"bold","fontSize":9,"align":"right","dx":9},"encoding":{"x":{"datum":11,"type":"ordinal"},"y":{"datum":6.5}}},
  {"data":{"name":"one"},"mark":{"type":"text","text":"p=0.001","fontSize":8.5,"align":"right","dx":9},"encoding":{"x":{"datum":11,"type":"ordinal"},"y":{"datum":5.6}}}
 ]},
 {"width":116,"height":106,"layer":[
  {"data":{"name":"bars"},"transform":[{"filter":"datum.p=='TGFβ'"}],"mark":"bar","encoding":{
   "x":{"field":"d","type":"ordinal","scale":{"domain":[2,4,7,9,11],"paddingInner":0.15,"paddingOuter":0.075},"axis":{"title":"days post infection"}},
   "xOffset":{"field":"i","type":"ordinal","scale":{"domain":[1,2,3,4,5,6],"paddingInner":0,"paddingOuter":0}},
   "y":{"field":"v","type":"quantitative","scale":{"domain":[-2,1],"nice":false},"axis":{"values":[-2,-1,0,1],"title":"ΔCt value from day 0"}},
   "color":{"field":"i","type":"ordinal","scale":{"domain":[1,2,3,4,5,6],"range":["#d9d9d9","#bfbfbf","#a6a6a6","#8a8a8a","#707070","#5c5c5c"]},"legend":null}}},
  {"data":{"name":"days"},"mark":{"type":"tick","orient":"vertical","size":4,"thickness":1,"color":"#333"},"encoding":{"x":{"field":"d","type":"ordinal","bandPosition":0},"y":{"datum":0}}},
  {"data":{"name":"stars"},"transform":[{"filter":"datum.p=='TGFβ'"}],"mark":{"type":"text","text":"★","fontSize":9,"font":"DejaVu Sans"},"encoding":{"x":{"field":"d","type":"ordinal"},"xOffset":{"field":"i","type":"ordinal"},"y":{"datum":0.83},"fill":{"field":"k","type":"nominal","scale":{"domain":["a","b"],"range":["#c4c4c4","#8c8c8c"]},"legend":null}}},
  {"data":{"name":"one"},"mark":{"type":"text","text":"TGFβ","fontWeight":"bold","fontSize":9,"align":"right","dx":9},"encoding":{"x":{"datum":11,"type":"ordinal"},"y":{"datum":0.75}}},
  {"data":{"name":"one"},"mark":{"type":"text","text":"p=0.01","fontSize":8.5,"align":"right","dx":9},"encoding":{"x":{"datum":11,"type":"ordinal"},"y":{"datum":0.4}}}
 ]},
 {"width":116,"height":106,"layer":[
  {"data":{"name":"bars"},"transform":[{"filter":"datum.p=='TNFα'"}],"mark":"bar","encoding":{
   "x":{"field":"d","type":"ordinal","scale":{"domain":[2,4,7,9,11],"paddingInner":0.15,"paddingOuter":0.075},"axis":{"title":"days post infection"}},
   "xOffset":{"field":"i","type":"ordinal","scale":{"domain":[1,2,3,4,5,6],"paddingInner":0,"paddingOuter":0}},
   "y":{"field":"v","type":"quantitative","scale":{"domain":[-1,3],"nice":false},"axis":{"values":[-1,0,1,2,3],"title":null}},
   "color":{"field":"i","type":"ordinal","scale":{"domain":[1,2,3,4,5,6],"range":["#d9d9d9","#bfbfbf","#a6a6a6","#8a8a8a","#707070","#5c5c5c"]},"legend":null}}},
  {"data":{"name":"days"},"mark":{"type":"tick","orient":"vertical","size":4,"thickness":1,"color":"#333"},"encoding":{"x":{"field":"d","type":"ordinal","bandPosition":0},"y":{"datum":0}}},
  {"data":{"name":"one"},"mark":{"type":"text","text":"TNFα","fontWeight":"bold","fontSize":9,"align":"right","dx":9},"encoding":{"x":{"datum":11,"type":"ordinal"},"y":{"datum":2.67}}},
  {"data":{"name":"one"},"mark":{"type":"text","text":"p=0.003","fontSize":8.5,"align":"right","dx":9},"encoding":{"x":{"datum":11,"type":"ordinal"},"y":{"datum":2.25}}}
 ]},
 {"width":116,"height":106,"layer":[
  {"data":{"name":"bars"},"transform":[{"filter":"datum.p=='IL-18'"}],"mark":"bar","encoding":{
   "x":{"field":"d","type":"ordinal","scale":{"domain":[2,4,7,9,11],"paddingInner":0.15,"paddingOuter":0.075},"axis":{"title":"days post infection"}},
   "xOffset":{"field":"i","type":"ordinal","scale":{"domain":[1,2,3,4,5,6],"paddingInner":0,"paddingOuter":0}},
   "y":{"field":"v","type":"quantitative","scale":{"domain":[-2,3],"nice":false},"axis":{"values":[-2,-1,0,1,2,3],"title":null}},
   "color":{"field":"i","type":"ordinal","scale":{"domain":[1,2,3,4,5,6],"range":["#d9d9d9","#bfbfbf","#a6a6a6","#8a8a8a","#707070","#5c5c5c"]},"legend":null}}},
  {"data":{"name":"days"},"mark":{"type":"tick","orient":"vertical","size":4,"thickness":1,"color":"#333"},"encoding":{"x":{"field":"d","type":"ordinal","bandPosition":0},"y":{"datum":0}}},
  {"data":{"name":"one"},"mark":{"type":"text","text":"IL-18","fontWeight":"bold","fontSize":9,"align":"right","dx":9},"encoding":{"x":{"datum":11,"type":"ordinal"},"y":{"datum":2.6}}},
  {"data":{"name":"one"},"mark":{"type":"text","text":"p=0.034","fontSize":8.5,"align":"right","dx":9},"encoding":{"x":{"datum":11,"type":"ordinal"},"y":{"datum":1.7}}}
 ]}
]
}
